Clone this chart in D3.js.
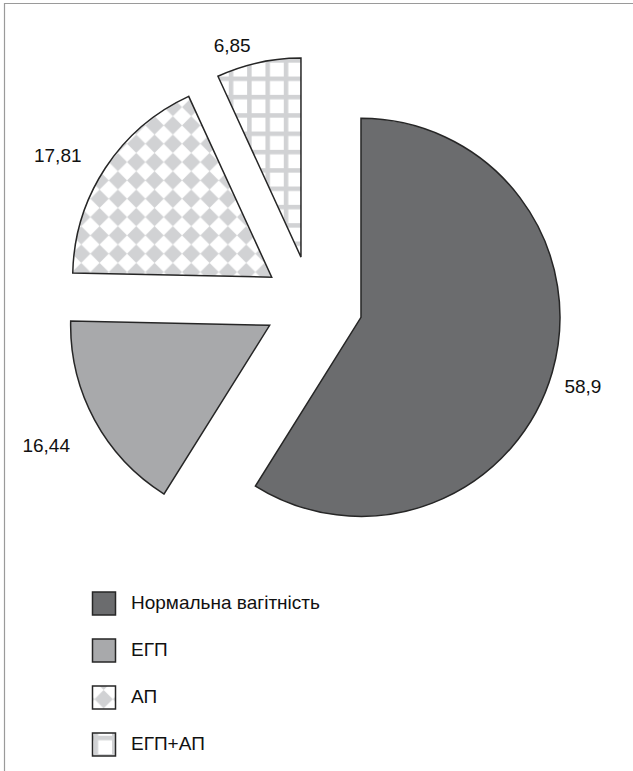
<!DOCTYPE html>
<html>
<head>
<meta charset="utf-8">
<script src="https://cdn.jsdelivr.net/npm/d3@7"></script>
<style>
  html, body { margin: 0; padding: 0; background: #fff; }
  text { font-family: "Liberation Sans", Arial, Helvetica, sans-serif; fill: #111; }
</style>
</head>
<body>
<svg id="chart" width="633" height="771"></svg>
<script>
// Розподіл вагітностей за перебігом, %
const categories = ["Нормальна вагітність", "ЕГП", "АП", "ЕГП+АП"];
const values = [58.9, 16.44, 17.81, 6.85];
const valueLabels = ["58,9", "16,44", "17,81", "6,85"];

// Layout: how far each slice is pulled out and small label nudges
const explode = [52, 47, 47, 47];
const labelNudge = [[-2, 5], [-14, 7], [-15, 9], [-18, 21]];
const fills = ["#6b6c6e", "#a8a9ab", "url(#checker)", "url(#grid)"];

const W = 633, H = 771;
const cx = 311, cy = 303, radius = 199, labelRadius = 285;
const patternGray = "#d1d2d4";

const svg = d3.select("#chart");
svg.append("rect").attr("width", W).attr("height", H).attr("fill", "#fff");

// Frame lines (top and left)
svg.append("line").attr("x1", 4).attr("y1", 3.5).attr("x2", W).attr("y2", 3.5)
  .attr("stroke", "#9a9a9a").attr("stroke-width", 1.2);
svg.append("line").attr("x1", 4.5).attr("y1", 3).attr("x2", 4.5).attr("y2", H)
  .attr("stroke", "#9a9a9a").attr("stroke-width", 1.2);

// Fill patterns
const defs = svg.append("defs");
const P = 18.33;
const checker = defs.append("pattern").attr("id", "checker")
  .attr("patternUnits", "userSpaceOnUse").attr("width", P).attr("height", P)
  .attr("x", 2).attr("y", 4);
checker.append("rect").attr("width", P).attr("height", P).attr("fill", "#fff");
checker.append("path")
  .attr("d", `M${P/2},0 L${P},${P/2} L${P/2},${P} L0,${P/2} Z`)
  .attr("fill", patternGray);

const grid = defs.append("pattern").attr("id", "grid")
  .attr("patternUnits", "userSpaceOnUse").attr("width", P).attr("height", P)
  .attr("x", 3.4 - 2.25).attr("y", 5 - 2.25);
grid.append("rect").attr("width", P).attr("height", P).attr("fill", "#fff");
grid.append("rect").attr("x", 0).attr("y", 0).attr("width", 4.5).attr("height", P).attr("fill", patternGray);
grid.append("rect").attr("x", 0).attr("y", 0).attr("width", P).attr("height", 4.5).attr("fill", patternGray);

// Pie
const pie = d3.pie().sort(null).value(d => d)(values);
const arc = d3.arc().innerRadius(0).outerRadius(radius);

const g = svg.append("g").attr("transform", `translate(${cx},${cy})`);

g.selectAll("path.slice").data(pie).join("path")
  .attr("class", "slice")
  .attr("d", arc)
  .attr("transform", (d, i) => {
    const a = (d.startAngle + d.endAngle) / 2;
    return `translate(${Math.sin(a) * explode[i]},${-Math.cos(a) * explode[i]})`;
  })
  .attr("fill", (d, i) => fills[i])
  .attr("stroke", "#262626")
  .attr("stroke-width", 1.5)
  .attr("stroke-linejoin", "miter");

// Value labels outside slices
g.selectAll("text.value").data(pie).join("text")
  .attr("class", "value")
  .attr("x", (d, i) => Math.sin((d.startAngle + d.endAngle) / 2) * labelRadius + labelNudge[i][0])
  .attr("y", (d, i) => -Math.cos((d.startAngle + d.endAngle) / 2) * labelRadius + labelNudge[i][1])
  .attr("dy", "0.35em")
  .attr("text-anchor", "middle")
  .style("font-size", "19px")
  .text((d, i) => valueLabels[i]);

// Legend
const legend = svg.append("g").attr("transform", "translate(92.5,592)");
const rowStep = 47;
const item = legend.selectAll("g.item").data(categories).join("g")
  .attr("class", "item")
  .attr("transform", (d, i) => `translate(0,${i * rowStep})`);
item.append("rect")
  .attr("width", 23).attr("height", 23)
  .attr("fill", (d, i) => fills[i])
  .attr("stroke", "#262626").attr("stroke-width", 1.5);
item.append("text")
  .attr("x", 38.5).attr("y", 16.5)
  .style("font-size", "19px")
  .text(d => d);
</script>
</body>
</html>
